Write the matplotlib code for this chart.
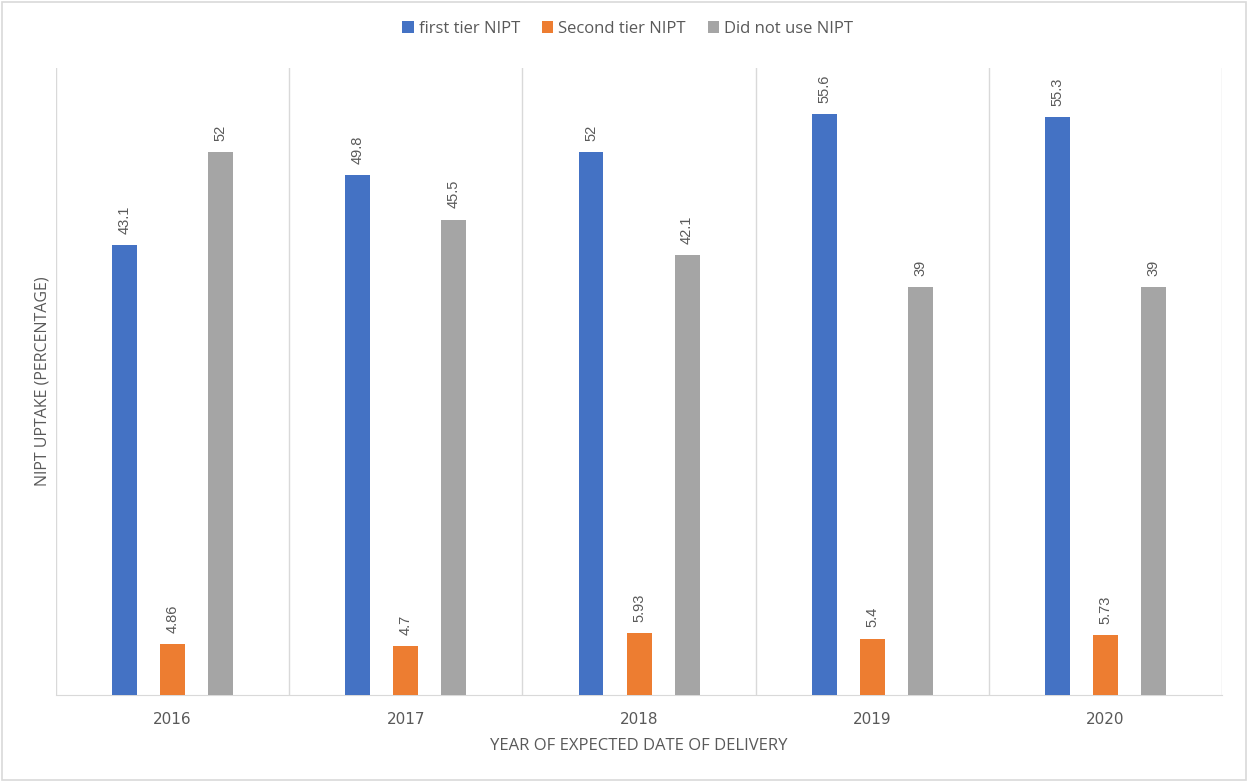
import numpy as np
from matplotlib import pyplot as plt
from matplotlib.patches import Rectangle

years = ['2016', '2017', '2018', '2019', '2020']
first_tier = [43.1, 49.8, 52, 55.6, 55.3]
second_tier = [4.86, 4.7, 5.93, 5.4, 5.73]
no_nipt = [52, 45.5, 42.1, 39, 39]
series_names = ['first tier NIPT', 'Second tier NIPT', 'Did not use NIPT']
colors = ['#4472C4', '#ED7D31', '#A5A5A5']
label_text = ['43.1', '49.8', '52', '55.6', '55.3']
second_text = ['4.86', '4.7', '5.93', '5.4', '5.73']
no_text = ['52', '45.5', '42.1', '39', '39']

text_color = '#595959'
grid_color = '#D9D9D9'


def main():
    fig = plt.figure(figsize=(12.48, 7.82), dpi=100)
    ax = fig.add_axes([0.0449, 0.1113, 0.9343, 0.8017])

    x = np.arange(len(years))
    width = 0.107
    offset = 0.206
    series = [first_tier, second_tier, no_nipt]
    texts = [label_text, second_text, no_text]
    for i, (vals, name, c, txt) in enumerate(zip(series, series_names, colors, texts)):
        pos = x + (i - 1) * offset
        ax.bar(pos, vals, width=width, color=c, label=name, zorder=3)
        for p, v, t in zip(pos, vals, txt):
            ax.annotate(t, (p, v), xytext=(0, 8), textcoords='offset points',
                        rotation=90, ha='center', va='bottom', fontsize=10.5,
                        color=text_color, family='Liberation Sans')

    ax.set_xlim(-0.5, len(years) - 0.5)
    ax.set_ylim(0, 60)
    ax.set_yticks([])
    ax.set_xticks(x)
    ax.set_xticklabels(years, fontsize=11, color=text_color, family='DejaVu Sans')
    ax.tick_params(axis='x', length=0, pad=12)
    for b in np.arange(-0.5, len(years), 1.0):
        ax.axvline(b, color=grid_color, lw=1, zorder=1)
    for s in ['top', 'right', 'left']:
        ax.spines[s].set_visible(False)
    ax.spines['bottom'].set_color(grid_color)

    ax.set_xlabel('YEAR OF EXPECTED DATE OF DELIVERY', fontsize=12,
                  color=text_color, family='Open Sans', labelpad=8)
    ax.set_ylabel('NIPT UPTAKE (PERCENTAGE)', fontsize=11.5,
                  color=text_color, family='Open Sans', labelpad=4)

    leg = fig.legend(loc='center', bbox_to_anchor=(0.503, 0.963), ncol=3,
                     frameon=False, handlelength=0.7,
                     handleheight=0.7, handletextpad=0.3, columnspacing=1.3,
                     prop={'family': 'Open Sans', 'size': 12})
    for t in leg.get_texts():
        t.set_color(text_color)

    fig.patches.append(Rectangle((0.002, 0.002), 0.996, 0.996, transform=fig.transFigure,
                                 fill=False, edgecolor=grid_color, lw=1.2))
    fig.savefig('out.png', dpi=100)


if __name__ == '__main__':
    main()
